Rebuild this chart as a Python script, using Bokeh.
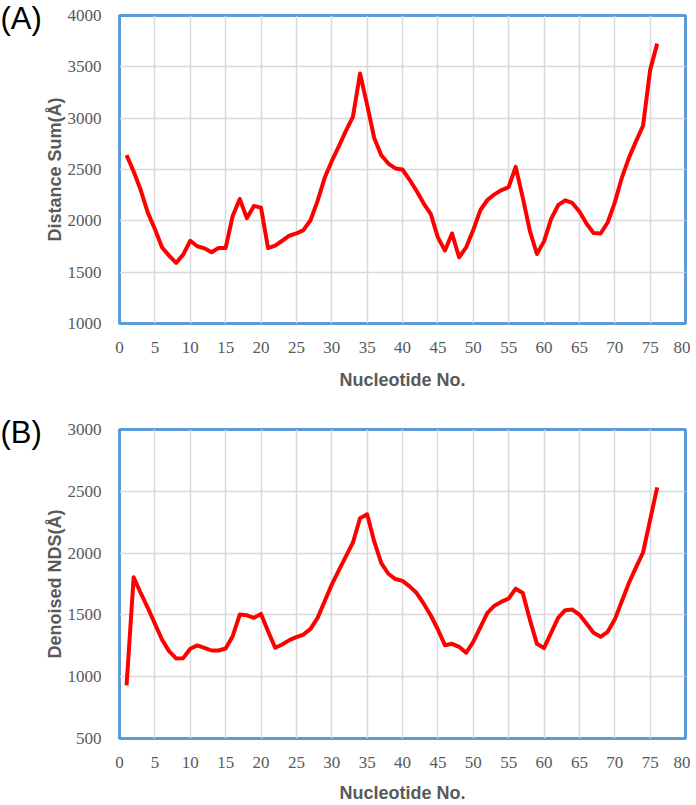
from bokeh.plotting import figure
from bokeh.layouts import column
from bokeh.models import Range1d, SingleIntervalTicker, Label
from bokeh.embed import file_html
from bokeh.resources import INLINE

nucleotide = list(range(1, 77))
distance_sum = [2640, 2480, 2300, 2080, 1920, 1742, 1661, 1590, 1671, 1806,
                1752, 1732, 1694, 1735, 1735, 2048, 2213, 2026, 2145, 2129,
                1735, 1758, 1806, 1855, 1877, 1910, 2006, 2194, 2419, 2581,
                2726, 2877, 3016, 3435, 3129, 2807, 2639, 2558, 2510, 2500,
                2400, 2290, 2168, 2065, 1839, 1710, 1877, 1645, 1742, 1910,
                2103, 2203, 2258, 2300, 2329, 2526, 2226, 1903, 1677, 1800,
                2016, 2152, 2200, 2174, 2090, 1974, 1881, 1877, 1984, 2177,
                2419, 2613, 2774, 2926, 3468, 3726]
denoised_nds = [930, 1804, 1677, 1556, 1430, 1301, 1207, 1148, 1150, 1226,
                1253, 1234, 1212, 1212, 1228, 1328, 1503, 1497, 1476, 1508,
                1368, 1234, 1261, 1296, 1320, 1341, 1387, 1476, 1610, 1745,
                1860, 1973, 2086, 2282, 2314, 2094, 1919, 1833, 1790, 1775,
                1731, 1677, 1591, 1495, 1382, 1255, 1266, 1242, 1194, 1282,
                1400, 1516, 1575, 1607, 1632, 1712, 1677, 1462, 1266, 1231,
                1355, 1476, 1538, 1543, 1503, 1430, 1355, 1323, 1363, 1462,
                1610, 1758, 1884, 2005, 2269, 2532]

x_label = "Nucleotide No."
panels = [
    dict(tag="(A)", y=distance_sum, ylabel="Distance Sum(Å)", ymin=1000, ymax=4000,
         height=395, top=15, bottom=72, xstand=14, tag_dy=-3),
    dict(tag="(B)", y=denoised_nds, ylabel="Denoised NDS(Å)", ymin=500, ymax=3000,
         height=410, top=34, bottom=66, xstand=12, tag_dy=-4),
]

TICK_COLOR = "#595959"
SERIF = "Liberation Serif"
SANS = "Liberation Sans"
figs = []
for pn in panels:
    p = figure(width=690, height=pn["height"], output_backend="svg", toolbar_location=None,
               x_range=Range1d(0, 80), y_range=Range1d(pn["ymin"], pn["ymax"]),
               min_border_left=117, min_border_right=5,
               min_border_top=pn["top"], min_border_bottom=pn["bottom"])
    p.outline_line_color = "#5B9BD5"
    p.outline_line_width = 3
    p.xaxis.ticker = SingleIntervalTicker(interval=5)
    p.yaxis.ticker = SingleIntervalTicker(interval=500)
    for ax in (p.xaxis, p.yaxis):
        ax.axis_line_color = None
        ax.major_tick_line_color = None
        ax.minor_tick_line_color = None
        ax.major_label_text_font = SERIF
        ax.major_label_text_font_size = "17px"
        ax.major_label_text_color = TICK_COLOR
        ax.axis_label_text_font = SANS
        ax.axis_label_text_font_style = "bold"
        ax.axis_label_text_font_size = "18px"
        ax.axis_label_text_color = TICK_COLOR
    p.xaxis.major_label_standoff = 12
    p.yaxis.major_label_standoff = 12
    p.xaxis.axis_label = x_label
    p.yaxis.axis_label = pn["ylabel"]
    p.xaxis.axis_label_standoff = pn["xstand"]
    p.yaxis.axis_label_standoff = 0
    p.grid.grid_line_color = "#D9D9D9"
    p.grid.grid_line_width = 1.5
    p.line(nucleotide, pn["y"], line_color="#FF0000", line_width=4, line_join="round")
    p.add_layout(Label(x=0, y=pn["height"] - pn["top"] - pn["bottom"] + pn["tag_dy"],
                       x_units="screen", y_units="screen",
                       text=pn["tag"], text_font=SANS,
                       text_font_size="31px", text_color="#000000",
                       text_align="left", text_baseline="middle"), "left")
    figs.append(p)

layout = column(*figs, spacing=0)
open("out.html", "w").write(file_html(layout, INLINE))
